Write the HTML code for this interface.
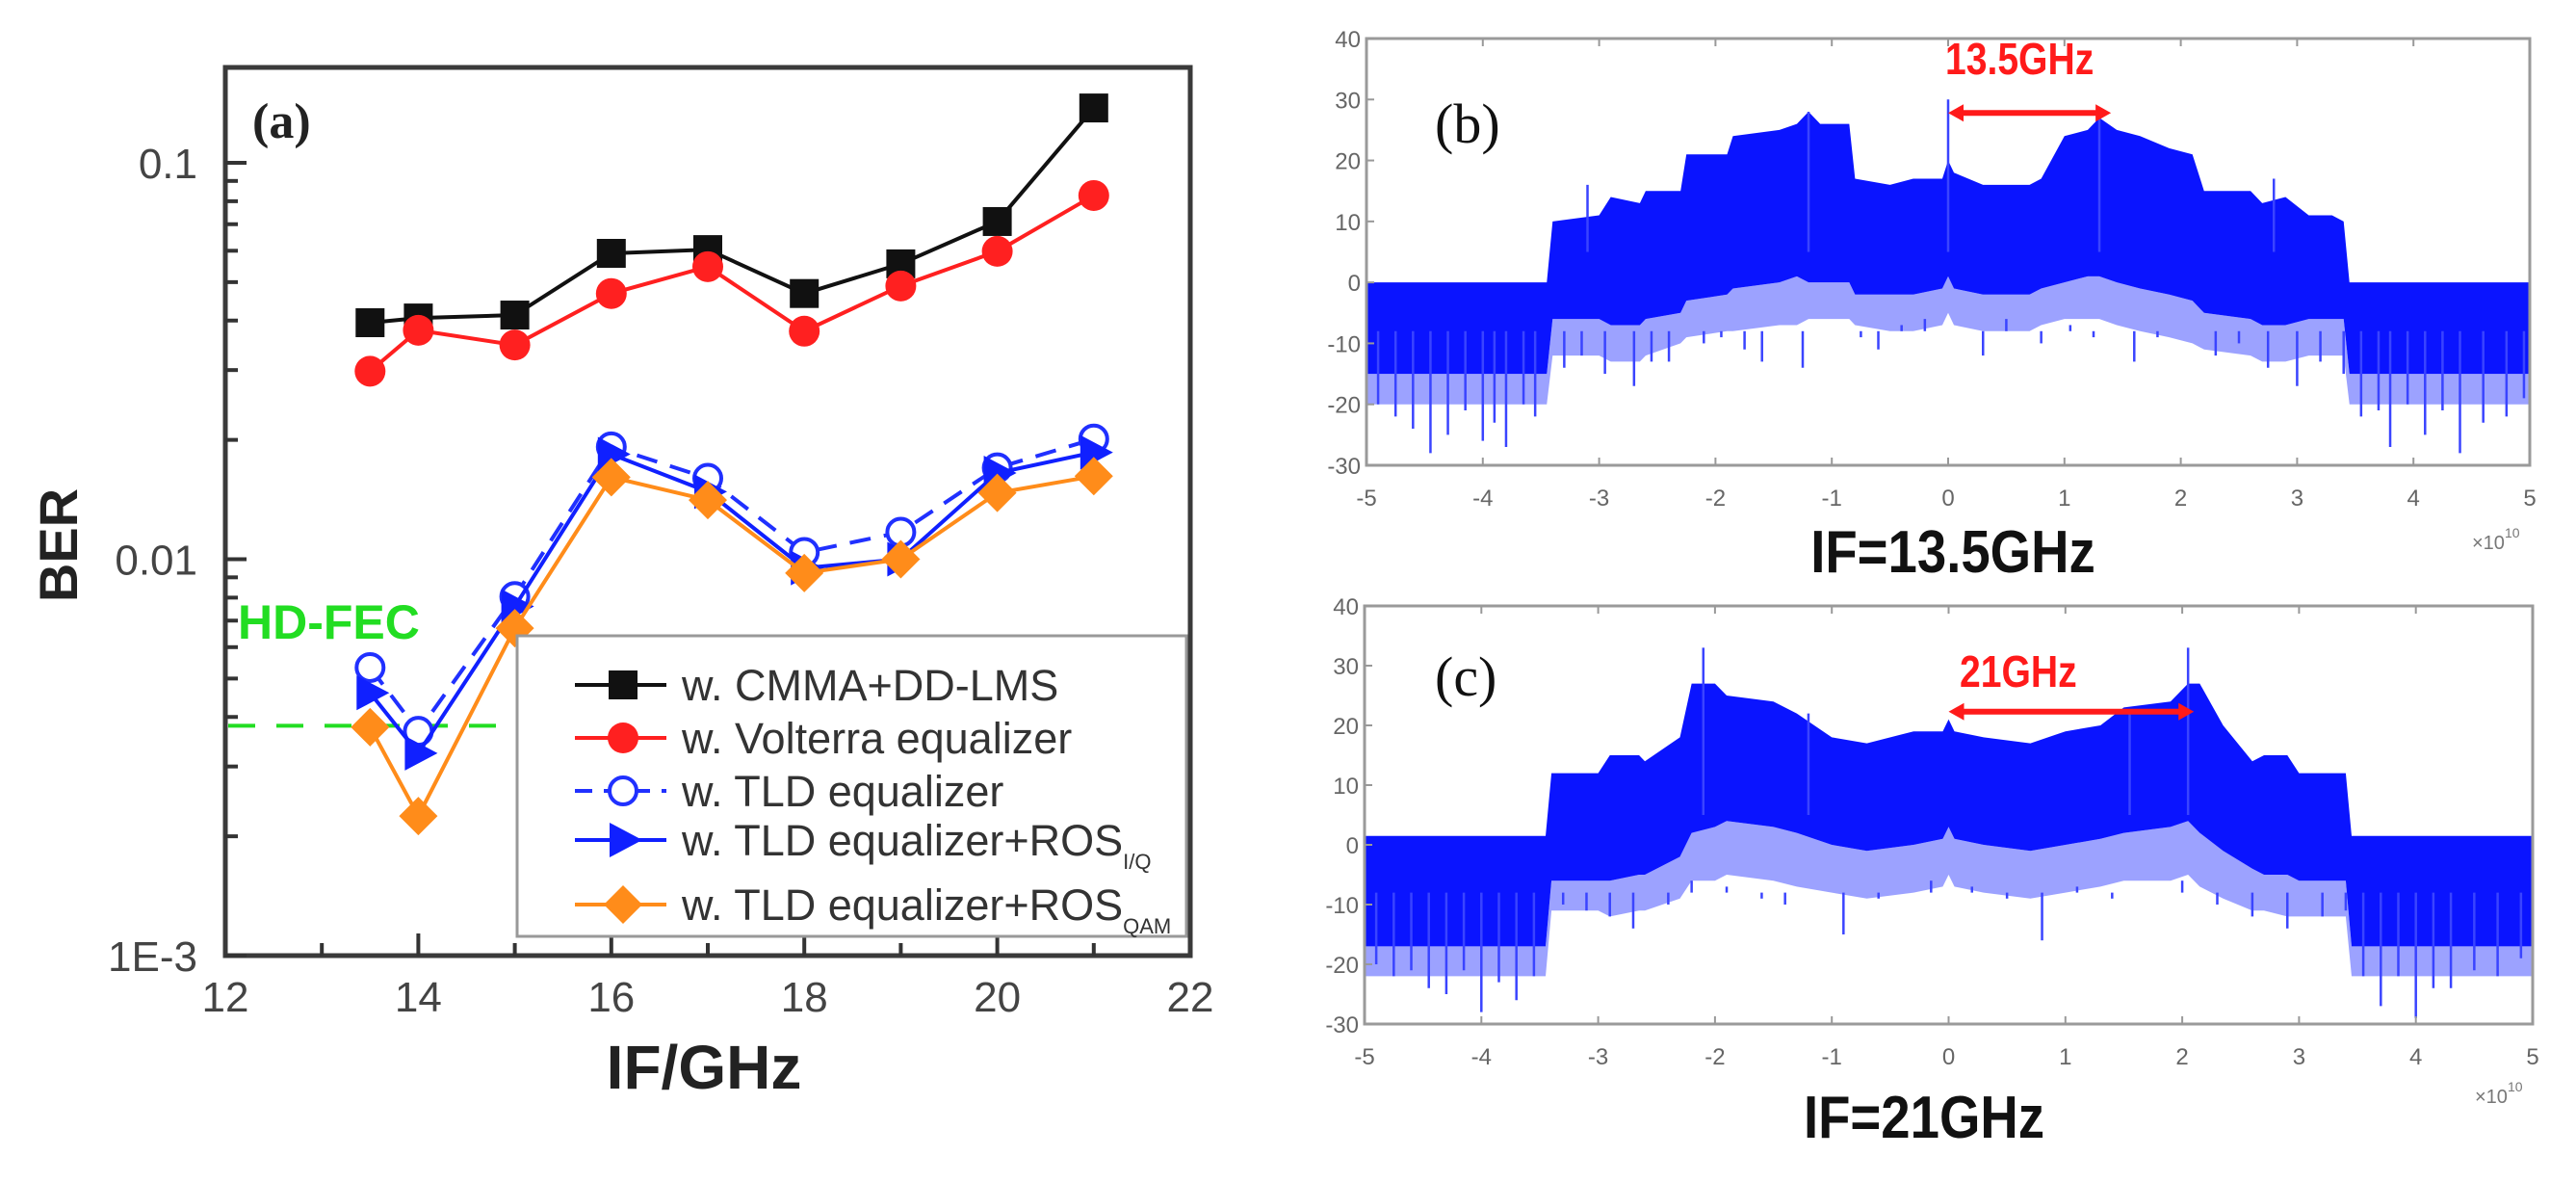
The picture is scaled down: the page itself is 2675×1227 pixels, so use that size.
<!DOCTYPE html>
<html><head><meta charset="utf-8"><style>
html,body{margin:0;padding:0;background:#fff;}
svg{display:block;font-family:"Liberation Sans",sans-serif;}
</style></head>
<body>
<svg id="fig" width="2675" height="1227" viewBox="0 0 2675 1227" xmlns="http://www.w3.org/2000/svg">
<g id="pa"></g>
<g id="pb"></g>
<g id="pc"></g>
</svg>
<script>
// ---------- Panel (a) data ----------
const ifGHz = [13.5, 14, 15, 16, 17, 18, 19, 20, 21];
const berCMMA = [0.0395, 0.0406, 0.0413, 0.0591, 0.0604, 0.0468, 0.0556, 0.0711, 0.1375];
const berVolterra = [0.0298, 0.0378, 0.0347, 0.0468, 0.0547, 0.0376, 0.0489, 0.0598, 0.0827];
const berTLD = [0.00533, 0.00368, 0.00805, 0.0192, 0.0160, 0.0104, 0.0117, 0.0170, 0.0201];
const berTLDIQ = [0.00460, 0.00324, 0.0076, 0.0184, 0.0148, 0.0095, 0.0100, 0.0165, 0.0186];
const berTLDQAM = [0.00377, 0.00225, 0.0067, 0.0161, 0.0141, 0.00923, 0.0100, 0.0147, 0.0162];
const hdFec = 0.0038;
const xTicksA = [12, 14, 16, 18, 20, 22];
const yTicksA = [0.1, 0.01, 0.001];
const yTickLabelsA = ["0.1", "0.01", "1E-3"];

// ---------- Panel (b)/(c) data (freq in units of 1e10 Hz, level in dB) ----------
const freqB = [-5,-3.45,-3.4,-3.0,-2.9,-2.65,-2.6,-2.3,-2.25,-1.9,-1.85,-1.45,-1.3,-1.2,-1.1,-0.85,-0.8,-0.5,-0.3,-0.05,0,0.05,0.3,0.7,0.8,1.0,1.2,1.3,1.45,1.65,1.9,2.1,2.2,2.6,2.7,2.9,3.1,3.3,3.4,3.45,5];
const topB  = [0,0,10,11,14,13,15,15,21,21,24,25,26,28,26,26,17,16,17,17,20,18,16,16,17,24,25,27,25,24,22,21,15,15,13,14,11,11,10,0,0];
const botB  = [-15,-15,-6,-6,-7,-7,-6,-5,-3,-2,-1,0,1,0,0,0,-2,-2,-2,-1,1,-1,-2,-2,-1,0,1,1,0,-1,-2,-3,-5,-6,-7,-7,-6,-6,-6,-15,-15];
const lowB  = [-20,-20,-12,-12,-13,-13,-12,-10,-9,-8,-8,-7,-7,-6,-6,-6,-7,-8,-8,-7,-5,-7,-8,-8,-7,-6,-6,-6,-7,-8,-9,-10,-11,-12,-13,-13,-12,-12,-12,-20,-20];
const spikeFreqB = [-4.9,-4.75,-4.6,-4.45,-4.3,-4.15,-4.0,-3.9,-3.8,-3.65,-3.55,-3.3,-3.15,-2.95,-2.7,-2.55,-2.4,-2.1,-1.95,-1.75,-1.6,-1.4,-1.25,-1.0,-0.75,-0.6,-0.4,-0.2,0.15,0.3,0.5,0.8,1.05,1.25,1.6,1.8,2.05,2.3,2.5,2.75,3.0,3.2,3.4,3.55,3.7,3.8,3.95,4.1,4.25,4.4,4.6,4.8,4.95,0,-3.1,2.8,-1.2,1.3];
const spikeLvlB  = [-20,-22,-24,-28,-25,-21,-26,-23,-27,-20,-22,-14,-12,-15,-17,-13,-13,-10,-9,-11,-13,-8,-14,-8,-9,-11,-7,-6,-8,-12,-6,-10,-7,-9,-13,-9,-8,-12,-10,-14,-17,-13,-15,-22,-21,-27,-20,-25,-21,-28,-23,-22,-19,30,16,17,28,28];

const freqC = [-5,-3.45,-3.4,-3.0,-2.9,-2.65,-2.6,-2.3,-2.2,-2.0,-1.9,-1.5,-1.3,-1.0,-0.7,-0.3,-0.05,0,0.05,0.3,0.7,1.0,1.3,1.5,1.9,2.05,2.15,2.35,2.6,2.7,2.9,3.0,3.35,3.4,3.45,5];
const topC  = [1.5,1.5,12,12,15,15,14,18,27,27,25,24,22,18,17,19,19,21,19,18,17,19,20,23,24,27,27,20,14,15,15,12,12,12,1.5,1.5];
const botC  = [-17,-17,-6,-6,-6,-5,-5,-2,2,3,4,3,2,0,-1,0,1,3,1,0,-1,0,1,2,3,4,2,-1,-4,-5,-5,-6,-6,-6,-17,-17];
const lowC  = [-22,-22,-11,-11,-12,-11,-11,-9,-6,-6,-5,-6,-7,-8,-9,-8,-7,-5,-7,-8,-9,-8,-7,-6,-6,-5,-7,-9,-11,-11,-12,-12,-12,-12,-22,-22];
const spikeFreqC = [-4.9,-4.75,-4.6,-4.45,-4.3,-4.15,-4.0,-3.85,-3.7,-3.55,-3.3,-3.1,-2.9,-2.7,-2.4,-2.2,-1.9,-1.6,-1.4,-1.1,-0.9,-0.6,-0.4,-0.15,0.2,0.5,0.8,1.1,1.4,1.7,2.0,2.3,2.6,2.9,3.2,3.4,3.55,3.7,3.85,4.0,4.15,4.3,4.5,4.7,4.9,-2.1,2.05,-1.2,1.55];
const spikeLvlC  = [-20,-22,-21,-24,-25,-21,-28,-23,-26,-22,-10,-11,-12,-14,-10,-6,-7,-9,-10,-8,-15,-9,-8,-6,-7,-9,-16,-7,-9,-8,-6,-10,-12,-14,-12,-11,-22,-27,-22,-29,-24,-24,-21,-22,-19,33,33,22,22];

const xTicksS = [-5,-4,-3,-2,-1,0,1,2,3,4,5];
const yTicksS = [40,30,20,10,0,-10,-20,-30];

const NS = "http://www.w3.org/2000/svg";
function mk(parent, tag, attrs, text) {
  const e = document.createElementNS(NS, tag);
  for (const k in attrs) e.setAttribute(k, attrs[k]);
  if (text !== undefined) e.textContent = text;
  parent.appendChild(e);
  return e;
}

// ================= Panel (a) =================
const pa = document.getElementById('pa');
const AX = {x0: 234, x1: 1236, y0: 70, y1: 992};
const xA = v => AX.x0 + (v - 12) / 10 * (AX.x1 - AX.x0);
const yA = v => 169 + (-1 - Math.log10(v)) * 411.5;

let fr = mk(pa, 'rect', {x: AX.x0, y: AX.y0, width: AX.x1 - AX.x0, height: AX.y1 - AX.y0, fill: 'none', stroke: '#3a3a3a', 'stroke-width': 5});



for (let d = -3; d <= -1; d++) {
  for (let m = 1; m <= 9; m++) {
    const v = m * Math.pow(10, d);
    if (d === -1 && m > 1) continue;
    const y = yA(v);
    const len = m === 1 ? 22 : 13;
    const t = mk(pa, 'line', {x1: AX.x0, x2: AX.x0 + len, y1: y, y2: y, stroke: '#333', 'stroke-width': 4});
    
    
  }
}
yTicksA.forEach((v, i) => {
  const t = mk(pa, 'text', {x: 205, y: yA(v) + 16, 'text-anchor': 'end', 'font-size': 44, fill: '#444'}, yTickLabelsA[i]);
  
  
});
for (let v = 13; v <= 21; v++) {
  const len = v % 2 === 0 ? 23 : 13;
  const t = mk(pa, 'line', {x1: xA(v), x2: xA(v), y1: AX.y1, y2: AX.y1 - len, stroke: '#333', 'stroke-width': 4});
  
  
}
xTicksA.forEach(v => {
  const t = mk(pa, 'text', {x: xA(v), y: 1050, 'text-anchor': 'middle', 'font-size': 44, fill: '#444'}, String(v));
  
  
});
let ylab = mk(pa, 'text', {x: 0, y: 0, transform: 'translate(80,566) rotate(-90)', 'text-anchor': 'middle', 'font-size': 56, 'font-weight': 'bold', fill: '#222'}, 'BER');


let xlab = mk(pa, 'text', {x: 731, y: 1130, 'text-anchor': 'middle', 'font-size': 64, 'font-weight': 'bold', fill: '#222'}, 'IF/GHz');


let plab = mk(pa, 'text', {x: 262, y: 143, 'font-size': 52, 'font-weight': 'bold', 'font-family': '"Liberation Serif",serif', fill: '#222'}, '(a)');



let fec = mk(pa, 'line', {x1: AX.x0 + 3, x2: 537, y1: yA(hdFec), y2: yA(hdFec), stroke: '#22dd22', 'stroke-width': 4, 'stroke-dasharray': '28 22'});


let fecT = mk(pa, 'text', {x: 247, y: 663, 'font-size': 50, 'font-weight': 'bold', fill: '#22dd22'}, 'HD-FEC');



function marker(g, type, cx, cy, color) {
  let m;
  if (type === 'square') m = mk(g, 'rect', {x: cx - 15, y: cy - 15, width: 30, height: 30, fill: color});
  else if (type === 'circle') m = mk(g, 'circle', {cx: cx, cy: cy, r: 16, fill: color});
  else if (type === 'ocircle') m = mk(g, 'circle', {cx: cx, cy: cy, r: 14, fill: '#fff', stroke: color, 'stroke-width': 4});
  else if (type === 'tri') m = mk(g, 'polygon', {points: `${cx-14},${cy-18} ${cx+20},${cy} ${cx-14},${cy+18}`, fill: color});
  else m = mk(g, 'polygon', {points: `${cx},${cy-20} ${cx+20},${cy} ${cx},${cy+20} ${cx-20},${cy}`, fill: color});
  return m;
}
const seriesA = [
  {vals: berCMMA, color: '#111', type: 'square', dash: null, name: 'series-cmma-dd-lms'},
  {vals: berVolterra, color: '#ff2020', type: 'circle', dash: null, name: 'series-volterra'},
  {vals: berTLD, color: '#2030ff', type: 'ocircle', dash: '22 14', name: 'series-tld'},
  {vals: berTLDIQ, color: '#1020ff', type: 'tri', dash: null, name: 'series-tld-ros-iq'},
  {vals: berTLDQAM, color: '#ff8c1a', type: 'diamond', dash: null, name: 'series-tld-ros-qam'}
];
seriesA.forEach(s => {
  const g = mk(pa, 'g', {});
  
  
  const pts = s.vals.map((v, i) => `${xA(ifGHz[i])},${yA(v)}`).join(' ');
  const ln = mk(g, 'polyline', {points: pts, fill: 'none', stroke: s.color, 'stroke-width': 4});
  if (s.dash) ln.setAttribute('stroke-dasharray', s.dash);
  
  
  s.vals.forEach((v, i) => {
    const m = marker(g, s.type, xA(ifGHz[i]), yA(v), s.color);
    
    
  });
});

const lg = mk(pa, 'g', {});


const lbox = mk(lg, 'rect', {x: 537, y: 660, width: 695, height: 312, fill: '#fff', stroke: '#999', 'stroke-width': 3});


const legTexts = ['w. CMMA+DD-LMS', 'w. Volterra equalizer', 'w. TLD equalizer', 'w. TLD equalizer+ROS', 'w. TLD equalizer+ROS'];
const legSubs = ['', '', '', 'I/Q', 'QAM'];
const legY = [711, 766, 821, 872, 939];
seriesA.forEach((s, i) => {
  const e = mk(lg, 'g', {});
  
  
  const l = mk(e, 'line', {x1: 597, x2: 692, y1: legY[i], y2: legY[i], stroke: s.color, 'stroke-width': 4});
  if (s.dash) l.setAttribute('stroke-dasharray', '18 12');
  marker(e, s.type, 647, legY[i], s.color);
  const t = mk(e, 'text', {x: 708, y: legY[i] + 16, 'font-size': 45, fill: '#333'}, legTexts[i]);
  if (legSubs[i]) {
    mk(t, 'tspan', {'font-size': 22, dy: 14}, legSubs[i]);
  }
});

// ================= Spectrum panels =================
function spectrum(g, cfg) {
  const xS = f => cfg.x0 + (f + 5) / 10 * (cfg.x1 - cfg.x0);
  const yS = d => cfg.y0 + (40 - d) / 70 * (cfg.y1 - cfg.y0);
  let pts = cfg.freq.map((f, i) => `${xS(f)},${yS(cfg.bot[i])}`);
  let pts2 = cfg.freq.map((f, i) => `${xS(f)},${yS(cfg.low[i])}`).reverse();
  const lp = mk(g, 'polygon', {points: pts.concat(pts2).join(' '), fill: '#5a64ff', opacity: 0.6});
  
  
  pts = cfg.freq.map((f, i) => `${xS(f)},${yS(cfg.top[i])}`);
  pts2 = cfg.freq.map((f, i) => `${xS(f)},${yS(cfg.bot[i])}`).reverse();
  const dp = mk(g, 'polygon', {points: pts.concat(pts2).join(' '), fill: '#0a14ff'});
  
  
  cfg.sf.forEach((f, i) => {
    const lvl = cfg.sl[i];
    const base = lvl > 0 ? 5 : -8;
    const s = mk(g, 'line', {x1: xS(f), x2: xS(f), y1: yS(base), y2: yS(lvl), stroke: '#3a44ff', 'stroke-width': 2.5});
    
    
  });
  const fr = mk(g, 'rect', {x: cfg.x0, y: cfg.y0, width: cfg.x1 - cfg.x0, height: cfg.y1 - cfg.y0, fill: 'none', stroke: '#9a9a9a', 'stroke-width': 3});
  
  
  xTicksS.forEach(v => {
    const t1 = mk(g, 'line', {x1: xS(v), x2: xS(v), y1: cfg.y1, y2: cfg.y1 - 8, stroke: '#999', 'stroke-width': 2});
    
    
    const t2 = mk(g, 'line', {x1: xS(v), x2: xS(v), y1: cfg.y0, y2: cfg.y0 + 8, stroke: '#999', 'stroke-width': 2});
    
    
    const tl = mk(g, 'text', {x: xS(v), y: cfg.y1 + 42, 'text-anchor': 'middle', 'font-size': 24, fill: '#666'}, String(v));
    
    
  });
  yTicksS.forEach(v => {
    const t1 = mk(g, 'line', {x1: cfg.x0, x2: cfg.x0 + 8, y1: yS(v), y2: yS(v), stroke: '#999', 'stroke-width': 2});
    
    
    const tl = mk(g, 'text', {x: cfg.x0 - 6, y: yS(v) + 9, 'text-anchor': 'end', 'font-size': 24, fill: '#666'}, String(v));
    
    
  });
  const ex = mk(g, 'text', {x: cfg.x1 - 60, y: cfg.expY, 'font-size': 20, fill: '#777'}, '×10');
  mk(ex, 'tspan', {dy: -12, 'font-size': 14}, '10');
  
  
  const pl = mk(g, 'text', {x: cfg.labX, y: cfg.labY, 'font-size': 58, 'font-family': '"Liberation Serif",serif', fill: '#111'}, cfg.label);
  
  
  const ay = yS(cfg.arrowDb);
  const ax0 = xS(0), ax1 = xS(cfg.arrowF);
  const ar = mk(g, 'g', {});
  
  
  mk(ar, 'line', {x1: ax0 + 12, x2: ax1 - 12, y1: ay, y2: ay, stroke: '#ff1a1a', 'stroke-width': 6});
  mk(ar, 'polygon', {points: `${ax0},${ay} ${ax0+16},${ay-9} ${ax0+16},${ay+9}`, fill: '#ff1a1a'});
  mk(ar, 'polygon', {points: `${ax1},${ay} ${ax1-16},${ay-9} ${ax1-16},${ay+9}`, fill: '#ff1a1a'});
  const at = mk(g, 'text', {x: cfg.annX, y: cfg.annY, 'font-size': 46, fill: '#ff1a1a', 'font-weight': 'bold', transform: `translate(${cfg.annX},0) scale(0.85,1) translate(${-cfg.annX},0)`}, cfg.ann);
  
  
  const cap = mk(g, 'text', {x: cfg.capX, y: cfg.capY, 'text-anchor': 'middle', 'font-size': 62, 'font-weight': 'bold', fill: '#111', transform: `translate(${cfg.capX},0) scale(0.88,1) translate(${-cfg.capX},0)`}, cfg.cap);
  
  
}
spectrum(document.getElementById('pb'), {x0: 1419, x1: 2627, y0: 40, y1: 483, freq: freqB, top: topB, bot: botB, low: lowB, sf: spikeFreqB, sl: spikeLvlB,
  label: '(b)', labX: 1490, labY: 148, arrowF: 1.4, arrowDb: 27.8, ann: '13.5GHz', annX: 2020, annY: 77, cap: 'IF=13.5GHz', capX: 2028, capY: 594, expY: 570});
spectrum(document.getElementById('pc'), {x0: 1417, x1: 2630, y0: 629, y1: 1063, freq: freqC, top: topC, bot: botC, low: lowC, sf: spikeFreqC, sl: spikeLvlC,
  label: '(c)', labX: 1490, labY: 722, arrowF: 2.1, arrowDb: 22.3, ann: '21GHz', annX: 2035, annY: 713, cap: 'IF=21GHz', capX: 1998, capY: 1181, expY: 1145});
</script>
</body></html>
